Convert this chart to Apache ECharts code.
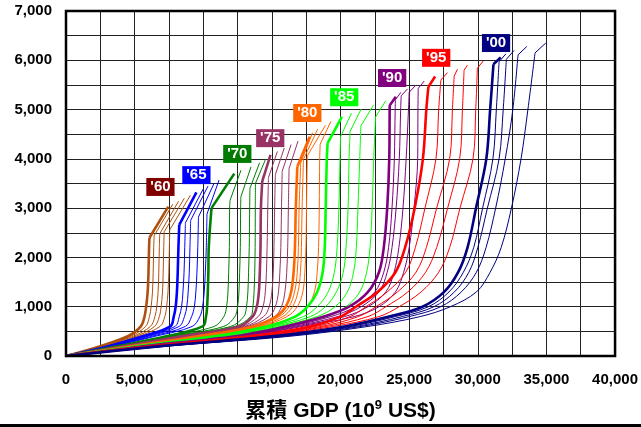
<!DOCTYPE html>
<html><head><meta charset="utf-8">
<script src="https://cdn.jsdelivr.net/npm/echarts@6/dist/echarts.min.js"></script>
<style>html,body{margin:0;padding:0;background:#fff;}#c{width:641px;height:427px;}</style>
</head><body><div id="c"></div>
<script>
// cumulative population levels (millions) at which cumulative GDP is read for each year
const popLevels = [0,200,400,600,800,1000,1300,1700,2200,3000,4000,5000];
const years = [];
for (let y = 1960; y <= 2004; y++) years.push(y);
// cumulative GDP (10^9 US$) at each population level, one row per year
const gdpAtLevel = [
[0,2500,4500,5450,5720,5840,5950,6010,6050,null,null,null],
[0,2600,4700,5800,6080,6200,6300,6350,6390,null,null,null],
[0,2700,4900,6150,6480,6610,6710,6760,6800,null,null,null],
[0,2800,5100,6450,6800,6930,7030,7080,7120,null,null,null],
[0,2900,5300,6850,7200,7330,7430,7490,7530,null,null,null],
[0,3100,5600,7600,7850,7990,8080,8140,8190,null,null,null],
[0,3200,5800,7950,8250,8420,8520,8600,8650,null,null,null],
[0,3300,6000,8250,8630,8800,8900,8980,9030,null,null,null],
[0,3400,6250,8700,9150,9350,9460,9540,9600,null,null,null],
[0,3500,6500,9200,9750,9950,10070,10150,10220,null,null,null],
[0,3800,7300,9950,10200,10280,10330,10370,10400,null,null,null],
[0,3900,7500,10800,11500,11700,11800,11850,11900,11920,null,null],
[0,4000,7700,11500,12300,12500,12600,12650,12700,12720,null,null],
[0,4100,7900,12000,12950,13150,13250,13300,13350,13380,null,null],
[0,4200,8100,12300,13450,13620,13700,13750,13780,13790,null,null],
[0,4300,8400,12600,13600,13900,14050,14120,14170,14200,null,null],
[0,4400,8600,12800,14000,14350,14520,14600,14650,14700,null,null],
[0,4500,8800,13000,14400,14800,15000,15100,15150,15200,null,null],
[0,4600,9000,13200,14800,15250,15480,15580,15650,15700,null,null],
[0,4700,9200,13400,15200,15700,15950,16080,16150,16200,null,null],
[0,4800,9600,13600,15300,16000,16400,16580,16680,16740,null,null],
[0,4900,9800,13800,15550,16250,16650,16850,16930,16980,null,null],
[0,5000,10000,14000,15800,16500,16900,17080,17150,17200,null,null],
[0,5100,10200,14200,16100,16850,17250,17400,17480,17520,17580,null],
[0,5200,10400,14400,16700,17600,18100,18300,18400,18450,18480,null],
[0,5300,10800,14600,16700,17600,18300,18700,18850,18920,19000,null],
[0,5400,11100,14900,17300,18300,19100,19550,19750,19880,19960,null],
[0,5500,11400,15200,17800,18900,19700,20200,20400,20550,20620,null],
[0,5600,11700,15500,18300,19600,20500,20950,21150,21270,21400,null],
[0,5700,12000,15800,19000,20400,21400,21900,22150,22300,22420,null],
[0,5800,12300,16000,18800,20630,22000,22800,23150,23400,23550,23580],
[0,5900,12500,16300,19300,21100,22500,23150,23500,23750,23920,23980],
[0,6000,12700,16600,19800,21500,22800,23400,23750,24050,24280,24380],
[0,6100,12900,16900,20300,22000,23300,23900,24250,24550,24780,24950],
[0,6200,13100,17200,21000,22800,24000,24600,25000,25350,25620,25640],
[0,6300,13400,17800,20000,21120,22700,24000,24700,25400,26000,26250],
[0,6400,13600,18200,20700,21850,23400,24750,25450,26150,26950,27150],
[0,6500,13800,18600,21300,22580,24150,25500,26250,27000,27950,28150],
[0,6600,14000,19000,22000,23300,24900,26200,27000,27800,28680,28880],
[0,6700,14300,19500,22800,24270,25870,27150,27950,28700,29650,29850],
[0,6900,15000,20300,23540,25970,27550,28570,29250,29870,30620,30900],
[0,7000,15300,20700,24000,26400,27900,28950,29700,30350,31100,31350],
[0,7100,15600,21100,24500,26800,28300,29350,30000,30700,31550,31850],
[0,7200,15900,21500,25000,27300,28800,29900,30600,31300,32000,32550],
[0,7400,16300,22000,25800,28000,29900,30900,31700,32450,33150,33650]
];
const kinkGdp = [6080,6420,6830,7150,7560, 8250,8700,9080,9650,10270, 10600,11950,12740,13400,13800,
 14300,14750,15250,15750,16250, 16850,17100,17300,17620,18520, 19060,20000,20700,21480,22550,
 23590,24000,24420,25000,25660, 26400,27310,28280,29000,29970, 31140,31550,32080,32930,34170];
const kinkPop = [2400,2440,2480,2520,2560, 2660,2700,2750,2820,2880, 3000,3160,3230,3400,3500,
 3550,3620,3680,3750,3800, 3840,3920,3990,4080,4300, 4320,4450,4560,4670,4850,
 5090,5200,5280,5350,5430, 5460,5600,5680,5800,5840, 5920,5970,6020,6110,6150];
const endGdp = [7450,7780,8200,8620,9060, 9500,10000,10350,10800,11150, 12260,12750,13480,14100,14550,
 14900,15400,15900,16400,16900, 17750,17960,18330,18900,19300, 20100,20800,21500,22400,23300,
 24030,24400,24880,25500,26100, 26890,27790,28520,29240,30410, 31670,32040,32640,33570,34950];
const endPop = [3030,3080,3140,3200,3260, 3320,3390,3450,3510,3570, 3700,3770,3840,3920,4000,
 4080,4150,4220,4290,4360, 4450,4530,4600,4680,4760, 4850,4930,5010,5090,5180,
 5260,5350,5420,5500,5580, 5670,5750,5820,5900,5990, 6060,6130,6200,6280,6350];

const groupLabels = ["'60","'65","'70","'75","'80","'85","'90","'95","'00"];
const groupColors = ['#B0500F','#0000FF','#008000','#993366','#FF6600','#00FF00','#800080','#FF0000','#000080'];
const labelBoxColors = ['#800000','#0000FF','#007A00','#993366','#FF6600','#00FF00','#800080','#FF0000','#000080'];
const labelGdp = [6880,9500,12480,14880,17580,20270,23760,26970,31330];
const labelPop = [3430,3670,4100,4420,4930,5250,5640,6050,6350];

const xTicks = ['0','5,000','10,000','15,000','20,000','25,000','30,000','35,000','40,000'];
const yTicks = ['0','1,000','2,000','3,000','4,000','5,000','6,000','7,000'];

const series = [];
years.forEach((yr, i) => {
  const pts = [];
  gdpAtLevel[i].forEach((g, j) => {
    if (g !== null && popLevels[j] < kinkPop[i]) pts.push([g, popLevels[j]]);
  });
  pts.push([kinkGdp[i], kinkPop[i]]);
  const grp = Math.floor(i / 5);
  const thick = i % 5 === 0;
  const ls = { color: groupColors[grp], width: thick ? 2.6 : 1 };
  // lower curved part
  series.push({
    type: 'line', name: String(yr), data: pts, showSymbol: false, silent: true,
    smooth: 0.35, lineStyle: ls, z: thick ? 3 : 2, animation: false
  });
  // straight top segment after the kink
  series.push({
    type: 'line', name: String(yr) + 't', data: [[kinkGdp[i], kinkPop[i]], [endGdp[i], endPop[i]]],
    showSymbol: false, silent: true, lineStyle: ls, z: thick ? 3 : 2, animation: false
  });
});
series.push({
  type: 'scatter', silent: true, animation: false, z: 10,
  symbol: 'rect', symbolSize: 1, itemStyle: { color: 'rgba(0,0,0,0)', opacity: 1 },
  data: groupLabels.map((t, k) => ({
    value: [labelGdp[k], labelPop[k]],
    label: { show: true, position: 'inside', formatter: t, color: '#fff', fontWeight: 'bold',
      fontSize: 15, fontFamily: 'Liberation Sans, Arial, sans-serif',
      backgroundColor: labelBoxColors[k], padding: [2, 4, 1, 4] }
  }))
});

const chart = echarts.init(document.getElementById('c'), null, { renderer: 'canvas' });
chart.setOption({
  backgroundColor: '#fff',
  animation: false,
  grid: { left: 66, right: 25, top: 11, bottom: 71, show: true, borderColor: '#000', borderWidth: 2.5, z: 5 },
  xAxis: {
    type: 'value', min: 0, max: 40000, interval: 2500,
    axisLine: { show: false }, axisTick: { show: false },
    splitLine: { show: true, lineStyle: { color: '#222', width: 1 } },
    axisLabel: { margin: 16, color: '#000', fontSize: 15, fontWeight: 'bold', fontFamily: 'Liberation Sans, Arial, sans-serif',
      formatter: v => (v % 5000 === 0 ? xTicks[v / 5000] : '') },
    name: '{a|累積 GDP (10}{s|9}{a| US$)}', nameLocation: 'middle', nameGap: 43,
    nameTextStyle: { rich: {
      a: { fontSize: 21, fontWeight: 'bold', color: '#000', fontFamily: 'Liberation Sans, Noto Sans CJK JP, sans-serif', lineHeight: 24 },
      s: { fontSize: 13, fontWeight: 'bold', color: '#000', fontFamily: 'Liberation Sans, sans-serif', verticalAlign: 'top', lineHeight: 24, padding: [0, 0, 9, 0] }
    } }
  },
  yAxis: {
    type: 'value', min: 0, max: 7000, interval: 500,
    axisLine: { show: false }, axisTick: { show: false },
    splitLine: { show: true, lineStyle: { color: '#222', width: 1 } },
    axisLabel: { margin: 14, color: '#000', fontSize: 15, fontWeight: 'bold', fontFamily: 'Liberation Sans, Arial, sans-serif',
      formatter: v => (v % 1000 === 0 ? yTicks[v / 1000] : '') }
  },
  graphic: [{ type: 'rect', left: 0, top: 424, shape: { width: 641, height: 3 }, style: { fill: '#000' }, silent: true }],
  series: series
});
</script></body></html>
